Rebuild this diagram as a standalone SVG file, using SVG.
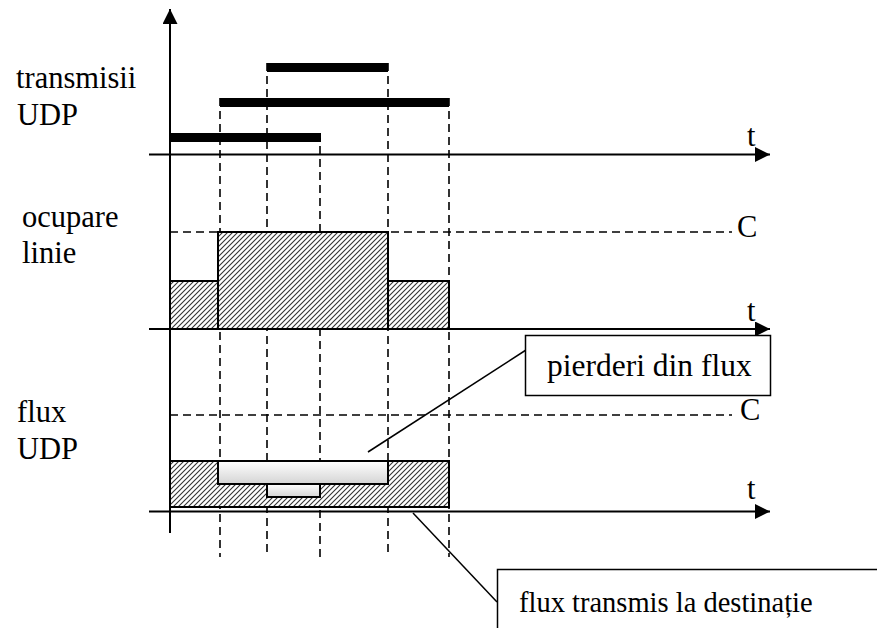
<svg xmlns="http://www.w3.org/2000/svg" width="877" height="628" viewBox="0 0 877 628">
<style>
text{font-family:'Liberation Serif','Times New Roman',Times,serif;font-size:30.5px;fill:#000}
.ax{stroke:#000;stroke-width:2;fill:none}
.dash{stroke:#000;stroke-width:1.6;stroke-dasharray:8 5;fill:none}
.bar{stroke:#000;stroke-width:9;fill:none}
.hat{fill:url(#hatch);stroke:#000;stroke-width:2}
.gbox{fill:url(#grad);stroke:#000;stroke-width:2}
.lbl{fill:#fff;stroke:#000;stroke-width:1.5}
.lead{stroke:#000;stroke-width:1.5;fill:none}
</style>
<defs>
<pattern id="hatch" patternUnits="userSpaceOnUse" width="5" height="5">
<rect width="5" height="5" fill="#fff"/>
<path d="M-1,6 L6,-1 M-1,1 L1,-1 M4,6 L6,4" stroke="#333" stroke-width="1.1"/>
</pattern>
<linearGradient id="grad" x1="0" y1="0" x2="0" y2="1">
<stop offset="0" stop-color="#ffffff"/>
<stop offset="1" stop-color="#d4d4d4"/>
</linearGradient>
<marker id="arr" viewBox="0 0 15 15" refX="15" refY="7.5" markerWidth="15" markerHeight="15" markerUnits="userSpaceOnUse" orient="auto">
<path d="M0,0 L15,7.5 L0,15 Z" fill="#000"/>
</marker>
</defs>

<g id="dashed-guides">
<line class="dash" x1="220" y1="98" x2="220" y2="557"/>
<line class="dash" x1="267" y1="63" x2="267" y2="557"/>
<line class="dash" x1="320" y1="133" x2="320" y2="557"/>
<line class="dash" x1="388" y1="63" x2="388" y2="557"/>
<line class="dash" x1="449" y1="98" x2="449" y2="557"/>
<line class="dash" x1="170" y1="232" x2="732" y2="232"/>
<line class="dash" x1="170" y1="415" x2="732" y2="415"/>
</g>

<g id="udp-bars">
<line class="bar" x1="267" y1="67.5" x2="388" y2="67.5"/>
<line class="bar" x1="220" y1="102.5" x2="449" y2="102.5"/>
<line class="bar" x1="170" y1="137.5" x2="321" y2="137.5"/>
</g>

<g id="line-occupancy">
<rect class="hat" x="170" y="281" width="48" height="48"/>
<rect class="hat" x="218" y="232" width="170" height="97"/>
<rect class="hat" x="388" y="281" width="61" height="48"/>
</g>

<g id="udp-flow">
<rect class="hat" x="170" y="461" width="279" height="46"/>
<rect class="gbox" x="218" y="461" width="170" height="23"/>
<rect class="gbox" x="267" y="484" width="53" height="13"/>
</g>

<g id="axes">
<line class="ax" x1="170" y1="533" x2="170" y2="9" marker-end="url(#arr)"/>
<line class="ax" x1="149" y1="154.5" x2="770" y2="154.5" marker-end="url(#arr)"/>
<line class="ax" x1="149" y1="329" x2="770" y2="329" marker-end="url(#arr)"/>
<line class="ax" x1="149" y1="511.5" x2="770" y2="511.5" marker-end="url(#arr)"/>
</g>

<g id="axis-labels">
<text x="747" y="146">t</text>
<text x="747" y="321">t</text>
<text x="747" y="499">t</text>
<text x="737" y="237">C</text>
<text x="740" y="420">C</text>
</g>

<g id="label-transmisii">
<text x="16" y="88">transmisii</text>
<text x="17" y="125">UDP</text>
</g>
<g id="label-ocupare">
<text x="22" y="227">ocupare</text>
<text x="22" y="263">linie</text>
</g>
<g id="label-flux">
<text x="17" y="422">flux</text>
<text x="17" y="459">UDP</text>
</g>

<g id="connectors">
<line class="lead" x1="368" y1="452" x2="526" y2="350"/>
<line class="lead" x1="413" y1="513" x2="497" y2="602"/>
</g>

<g id="box-pierderi">
<rect class="lbl" x="525.5" y="335.5" width="245" height="60"/>
<text x="547" y="376" style="font-size:31.5px">pierderi din flux</text>
</g>

<g id="box-transmis">
<rect class="lbl" x="497.5" y="569.5" width="400" height="100"/>
<text x="519" y="612" style="font-size:28.5px">flux transmis la destinație</text>
</g>
</svg>
